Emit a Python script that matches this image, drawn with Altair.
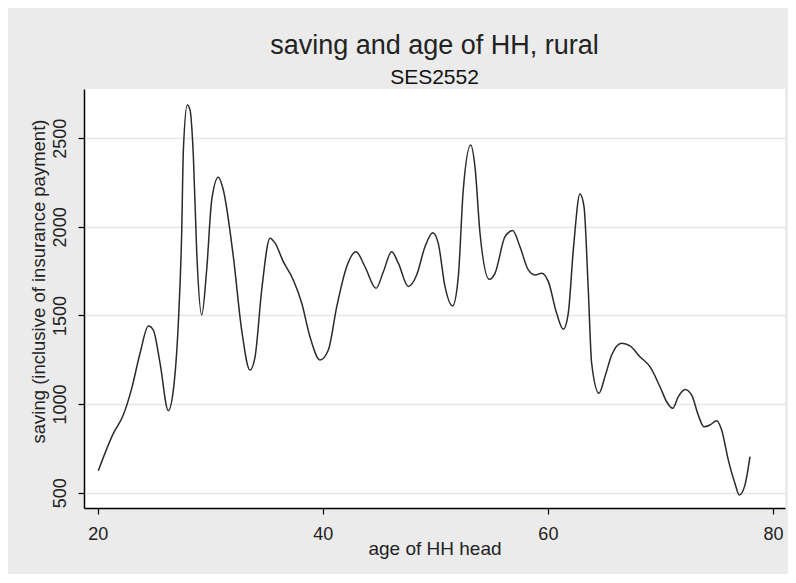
import altair as alt
import pandas as pd

# Age of household head (years)
ages = [20.05, 21.39, 22.27, 23.02, 23.76, 24.5, 24.94, 25.54, 26.27, 26.72,
        27.16, 27.46, 27.61, 27.96, 28.2, 28.5, 28.8, 29.24, 29.68, 30.13,
        30.72, 31.16, 32.05, 32.79, 33.53, 33.98, 34.57, 35.31, 35.76, 36.49,
        37.38, 38.13, 38.86, 39.75, 40.49, 41.24, 42.12, 42.95, 43.75, 44.73,
        45.38, 46.12, 46.71, 47.6, 48.34, 49.08, 49.77, 50.26, 50.86, 51.54,
        52.04, 52.48, 53.14, 53.52, 53.97, 54.79, 55.3, 56.19, 56.87, 57.52,
        58.26, 58.86, 59.45, 60.04, 60.78, 61.37, 61.81, 62.26, 62.85, 63.21,
        63.59, 63.89, 64.54, 65.07, 65.67, 66.56, 67.3, 68.18, 69.07, 69.96,
        70.55, 71.09, 71.59, 72.18, 72.78, 73.36, 73.87, 74.4, 75.0, 75.44,
        76.03, 76.62, 77.01, 77.51, 77.96]

# Saving (inclusive of insurance payment)
saving = [624, 835, 938, 1089, 1287, 1441, 1418, 1230, 963, 1080,
          1456, 1964, 2434, 2688, 2660, 2396, 1851, 1503, 1757, 2152,
          2280, 2208, 1832, 1418, 1192, 1267, 1644, 1936, 1908, 1804,
          1700, 1569, 1380, 1249, 1305, 1550, 1775, 1860, 1775, 1653,
          1747, 1860, 1795, 1663, 1728, 1888, 1967, 1907, 1663, 1554,
          1719, 2208, 2462, 2340, 1964, 1704, 1738, 1945, 1979, 1888,
          1757, 1729, 1738, 1691, 1512, 1422, 1512, 1870, 2185, 2114,
          1644, 1230, 1061, 1155, 1277, 1343, 1328, 1267, 1211, 1098,
          1014, 976, 1042, 1083, 1051, 938, 872, 882, 906, 854,
          685, 553, 487, 543, 703]

x_ticks = [20, 40, 60, 80]
y_ticks = [500, 1000, 1500, 2000, 2500]

df = pd.DataFrame({"age": ages, "saving": saving})

FONT = "Liberation Sans"

chart = alt.Chart(df).mark_line(
    interpolate="monotone", color="#2a2a2a", strokeWidth=1.5
).encode(
    x=alt.X("age:Q",
            scale=alt.Scale(domain=[18.78, 81.07], nice=False, zero=False),
            axis=alt.Axis(values=x_ticks, title="age of HH head", grid=False,
                          format="d",
                          domainColor="black", domainWidth=1.5,
                          tickColor="black", tickWidth=1.2, tickSize=6,
                          labelFont=FONT, labelFontSize=18, labelColor="#222",
                          labelBaseline="alphabetic", labelPadding=25,
                          titleFont=FONT, titleFontSize=19, titleFontWeight="normal",
                          titleColor="#222", titleBaseline="alphabetic",
                          titleY=46)),
    y=alt.Y("saving:Q",
            scale=alt.Scale(domain=[413.7, 2778], nice=False, zero=False),
            axis=alt.Axis(values=y_ticks, title="saving (inclusive of insurance payment)",
                          format="d",
                          grid=True, gridColor="#e6e6e6", gridWidth=1.5,
                          domainColor="black", domainWidth=1.5,
                          tickColor="black", tickWidth=1.2, tickSize=6,
                          labelFont=FONT, labelFontSize=18, labelColor="#222",
                          labelAngle=270, labelAlign="center",
                          labelBaseline="alphabetic", labelPadding=12.5,
                          titleFont=FONT, titleFontSize=18.5, titleFontWeight="normal",
                          titleColor="#222", titleAngle=270, titleAlign="center",
                          titleBaseline="alphabetic", titleX=-40, titleY=192)),
).properties(
    width=701,
    height=419,
    padding={"left": 76, "top": 81, "right": 3, "bottom": 66},
    autosize=alt.AutoSizeParams(type="none"),
    background="#ebebeb",
    title=alt.TitleParams(
        text="saving and age of HH, rural",
        subtitle="SES2552",
        anchor="middle",
        frame="group",
        font=FONT,
        fontSize=27,
        fontWeight="normal",
        color="#222",
        subtitleFont=FONT,
        subtitleFontSize=21,
        subtitleColor="#111",
        subtitlePadding=7,
        offset=0,
    ),
).configure_view(fill="white", strokeWidth=0)

chart.save("out.html", embed_options={"renderer": "svg", "actions": False})
